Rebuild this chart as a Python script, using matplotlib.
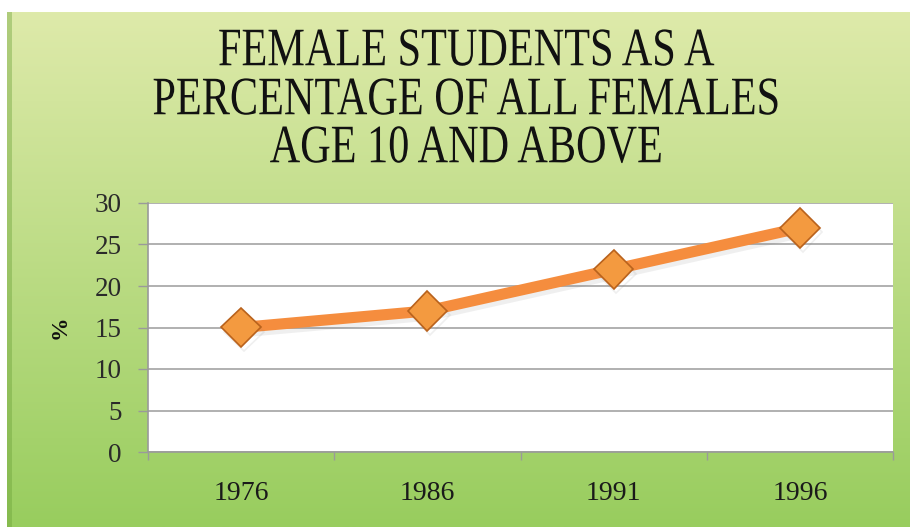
import numpy as np
import matplotlib
matplotlib.use("Agg")
import matplotlib.pyplot as plt
from matplotlib.patheffects import AbstractPathEffect, SimpleLineShadow, Normal
from matplotlib.transforms import Affine2D
from matplotlib.ticker import FixedLocator

# ---- data ----
years = ["1976", "1986", "1991", "1996"]
female_students_pct = [15, 17, 22, 27]
y_ticks = [0, 5, 10, 15, 20, 25, 30]
title_lines = ["FEMALE STUDENTS AS A",
               "PERCENTAGE OF ALL FEMALES",
               "AGE 10 AND ABOVE"]
y_label = "%"

W, H = 910, 527
fig = plt.figure(figsize=(W / 100, H / 100), dpi=100)
fig.patch.set_facecolor("white")


class HStretch(AbstractPathEffect):
    """Squeeze text horizontally about a fixed figure x position."""

    def __init__(self, sx, cx_frac):
        super().__init__()
        self.sx = sx
        self.cx_frac = cx_frac

    def draw_path(self, renderer, gc, tpath, affine, rgbFace=None):
        cx = self.cx_frac * renderer.width
        aff = affine + Affine2D().translate(-cx, 0).scale(self.sx, 1).translate(cx, 0)
        renderer.draw_path(gc, tpath, aff, rgbFace)


# ---- green gradient panel ----
bg = fig.add_axes([7 / W, 0, 1 - 7 / W, 1 - 12 / H])
bg.set_axis_off()
top = np.array([222, 234, 170]) / 255
bot = np.array([152, 205, 94]) / 255
t = np.linspace(0, 1, 256)[:, None]
grad = top[None, :] * (1 - t) + bot[None, :] * t
bg.imshow(grad[:, None, :], aspect="auto", extent=[0, 1, 0, 1], origin="upper")
# darker strip along the left edge
bg.axvspan(0, 5 / (W - 7), color=(0.42, 0.63, 0.22), alpha=0.4, lw=0)
bg.set_xlim(0, 1)
bg.set_ylim(0, 1)

# ---- title ----
serif = "Liberation Serif"
title_cx = 466 / W
title_y = [52, 101, 149]
for line, yc in zip(title_lines, title_y):
    fig.text(title_cx, 1 - yc / H, line, ha="center", va="center",
             fontsize=39, family=serif, color="#111111",
             path_effects=[HStretch(0.78, title_cx)])

# ---- plot area ----
left, right, top_px, bottom_px = 148, 893, 203, 452
ax = fig.add_axes([left / W, 1 - bottom_px / H, (right - left) / W, (bottom_px - top_px) / H])
ax.set_facecolor("white")

x = np.arange(len(years))
ax.plot(x, female_students_pct, color="#f58d3e", lw=8, solid_capstyle="butt",
        marker="D", markersize=20, markerfacecolor="#f39a40",
        markeredgecolor="#b9621c", markeredgewidth=1.2, zorder=3,
        path_effects=[SimpleLineShadow(offset=(2, -3), shadow_color="#808080", alpha=0.12),
                      Normal()])

ax.set_xlim(-0.5, len(years) - 0.5)
ax.set_ylim(0, 30)
ax.set_yticks(y_ticks)
ax.set_yticklabels([str(v) for v in y_ticks])
ax.set_xticks(x)
ax.set_xticklabels(years)
ax.xaxis.set_minor_locator(FixedLocator(np.arange(-0.5, len(years), 1.0)))

ax.grid(axis="y", color="#a3a3a3", lw=1.2, zorder=0)
ax.set_axisbelow(True)
for s in ["top", "right"]:
    ax.spines[s].set_visible(False)
for s in ["left", "bottom"]:
    ax.spines[s].set_color("#9a9a9a")
    ax.spines[s].set_linewidth(1.2)

ax.tick_params(axis="y", which="major", length=7, width=1, color="#9a9a9a",
               pad=12, labelsize=19.5, labelcolor="#2a2a2a")
ax.tick_params(axis="x", which="major", length=0, pad=21, labelsize=20,
               labelcolor="#1a1a1a")
ax.tick_params(axis="x", which="minor", length=6, width=1, color="#9a9a9a")
for lab in ax.get_xticklabels() + ax.get_yticklabels():
    lab.set_family(serif)

fig.text(60 / W, 1 - 327 / H, y_label, rotation=90, ha="center", va="center",
         fontsize=17, fontweight="bold", family=serif, color="#111111")

fig.savefig("out.png", dpi=100, facecolor=fig.get_facecolor())
